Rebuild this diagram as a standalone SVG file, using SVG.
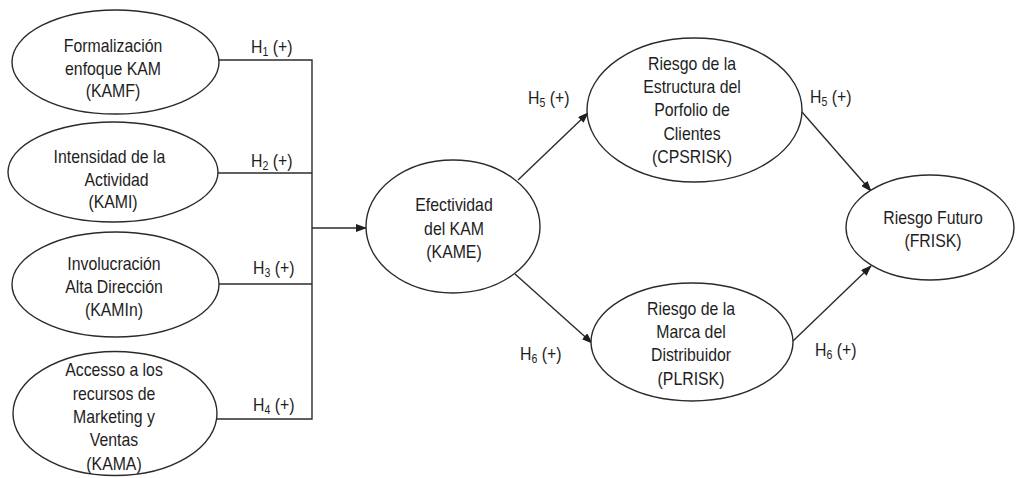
<svg xmlns="http://www.w3.org/2000/svg" width="1017" height="478" viewBox="0 0 1017 478">
<style>
.n{fill:#fff;stroke:#2b2b2b;stroke-width:1.4}
.t{font-family:"Liberation Sans",Arial,sans-serif;font-size:18px;fill:#1e1e1e;text-anchor:middle}
.l{font-family:"Liberation Sans",Arial,sans-serif;font-size:18px;fill:#1e1e1e}
.s{font-size:12px}
.c{fill:none;stroke:#2b2b2b;stroke-width:1.4}
</style>
<defs>
<marker id="ah" markerUnits="userSpaceOnUse" markerWidth="11" markerHeight="8" refX="10" refY="4" orient="auto">
<path d="M0,0 L11,4 L0,8 z" fill="#1e1e1e"/>
</marker>
</defs>
<rect width="1017" height="478" fill="#fff"/>
<g id="connectors">
<path class="c" d="M219,60 H312 V419 H217"/>
<path class="c" d="M218,173 H312"/>
<path class="c" d="M219,284 H312"/>
<path class="c" d="M312,228 H366" marker-end="url(#ah)"/>
<path class="c" d="M518,180 L588,113" marker-end="url(#ah)"/>
<path class="c" d="M802,112 L871,191" marker-end="url(#ah)"/>
<path class="c" d="M515,274 L592,343" marker-end="url(#ah)"/>
<path class="c" d="M793,341 L871,266" marker-end="url(#ah)"/>
</g>
<g id="labels">
<text class="l" transform="translate(251,53) scale(0.88,1)">H<tspan class="s" dy="3">1</tspan><tspan dy="-3"> (+)</tspan></text>
<text class="l" transform="translate(251,167) scale(0.88,1)">H<tspan class="s" dy="3">2</tspan><tspan dy="-3"> (+)</tspan></text>
<text class="l" transform="translate(253,274) scale(0.88,1)">H<tspan class="s" dy="3">3</tspan><tspan dy="-3"> (+)</tspan></text>
<text class="l" transform="translate(253,411) scale(0.88,1)">H<tspan class="s" dy="3">4</tspan><tspan dy="-3"> (+)</tspan></text>
<text class="l" transform="translate(528,104) scale(0.88,1)">H<tspan class="s" dy="3">5</tspan><tspan dy="-3"> (+)</tspan></text>
<text class="l" transform="translate(810,103) scale(0.88,1)">H<tspan class="s" dy="3">5</tspan><tspan dy="-3"> (+)</tspan></text>
<text class="l" transform="translate(520,360) scale(0.88,1)">H<tspan class="s" dy="3">6</tspan><tspan dy="-3"> (+)</tspan></text>
<text class="l" transform="translate(815,356) scale(0.88,1)">H<tspan class="s" dy="3">6</tspan><tspan dy="-3"> (+)</tspan></text>
</g>
<g id="KAMF">
<ellipse class="n" cx="115.5" cy="62" rx="103.5" ry="52"/>
<g transform="translate(113,0) scale(0.88,1)">
<text class="t" x="0" y="52">Formalización</text>
<text class="t" x="0" y="75">enfoque KAM</text>
<text class="t" x="0" y="97">(KAMF)</text>
</g>
</g>
<g id="KAMI">
<ellipse class="n" cx="113" cy="172" rx="105" ry="50"/>
<g transform="translate(113,0) scale(0.88,1)">
<text class="t" x="-4" y="163">Intensidad de la</text>
<text class="t" x="4" y="186">Actividad</text>
<text class="t" x="0" y="208">(KAMI)</text>
</g>
</g>
<g id="KAMIn">
<ellipse class="n" cx="115.5" cy="284.5" rx="103.5" ry="52.5"/>
<g transform="translate(114,0) scale(0.88,1)">
<text class="t" x="0" y="270">Involucración</text>
<text class="t" x="0" y="293">Alta Dirección</text>
<text class="t" x="0" y="316">(KAMIn)</text>
</g>
</g>
<g id="KAMA">
<ellipse class="n" cx="115" cy="413.5" rx="102" ry="62"/>
<g transform="translate(114,0) scale(0.88,1)">
<text class="t" x="0" y="376">Accesso a los</text>
<text class="t" x="0" y="400">recursos de</text>
<text class="t" x="0" y="423">Marketing y</text>
<text class="t" x="0" y="446">Ventas</text>
<text class="t" x="0" y="470">(KAMA)</text>
</g>
</g>
<g id="KAME">
<ellipse class="n" cx="453" cy="226.5" rx="87" ry="66.5"/>
<g transform="translate(454,0) scale(0.88,1)">
<text class="t" x="0" y="211">Efectividad</text>
<text class="t" x="0" y="235">del KAM</text>
<text class="t" x="0" y="258">(KAME)</text>
</g>
</g>
<g id="CPSRISK">
<ellipse class="n" cx="694.5" cy="110" rx="107.5" ry="72"/>
<g transform="translate(692,0) scale(0.88,1)">
<text class="t" x="0" y="70">Riesgo de la</text>
<text class="t" x="0" y="93">Estructura del</text>
<text class="t" x="0" y="116">Porfolio de</text>
<text class="t" x="0" y="140">Clientes</text>
<text class="t" x="0" y="163">(CPSRISK)</text>
</g>
</g>
<g id="PLRISK">
<ellipse class="n" cx="692" cy="342" rx="101" ry="59"/>
<g transform="translate(691,0) scale(0.88,1)">
<text class="t" x="0" y="315">Riesgo de la</text>
<text class="t" x="0" y="338">Marca del</text>
<text class="t" x="0" y="361">Distribuidor</text>
<text class="t" x="0" y="385">(PLRISK)</text>
</g>
</g>
<g id="FRISK">
<ellipse class="n" cx="930" cy="227.5" rx="84" ry="52.5"/>
<g transform="translate(933,0) scale(0.88,1)">
<text class="t" x="0" y="224">Riesgo Futuro</text>
<text class="t" x="0" y="247">(FRISK)</text>
</g>
</g>
</svg>
